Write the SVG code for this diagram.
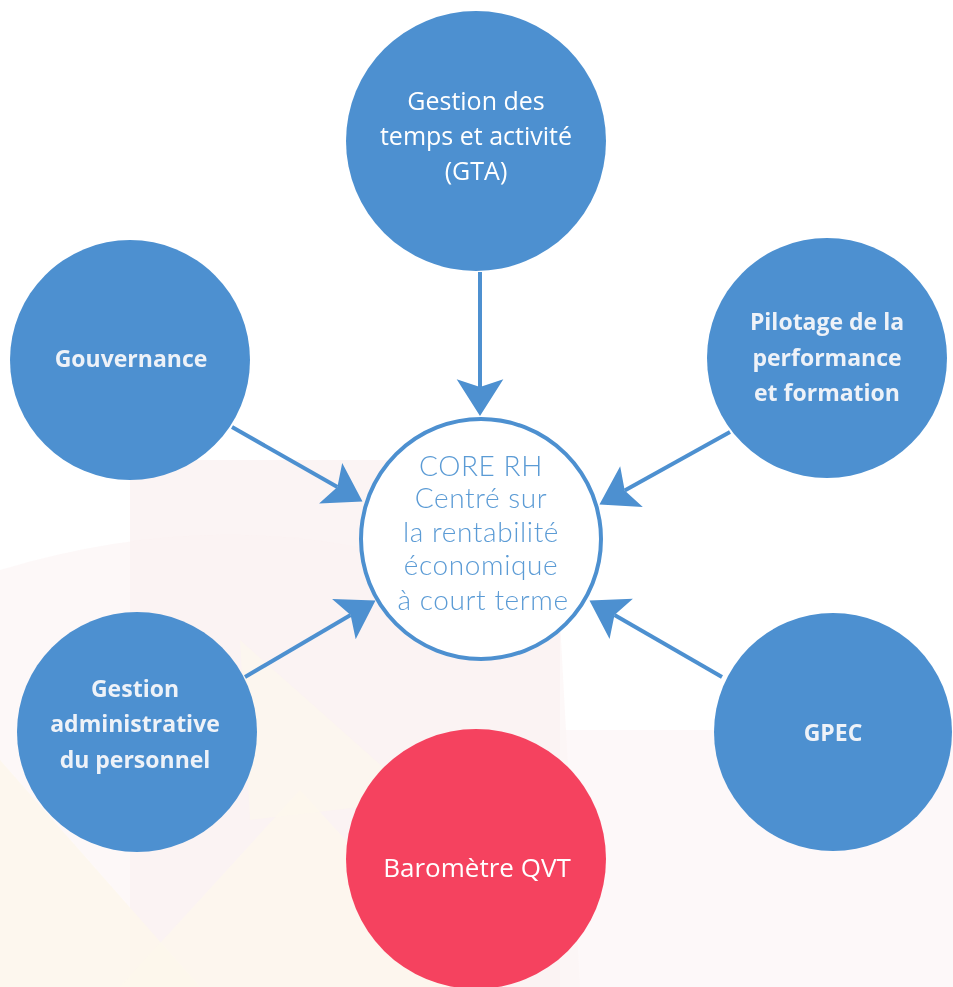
<svg xmlns="http://www.w3.org/2000/svg" width="953" height="987" viewBox="0 0 953 987">
<defs>
<style>
.node{fill:#4d90d0}
.red{fill:#f5425f}
.lbl{font-family:"Open Sans","Liberation Sans",sans-serif;font-weight:bold;font-size:23px;fill:#eef2f8;text-anchor:middle}
.cal{font-family:"Open Sans","Liberation Sans",sans-serif;font-size:25px;fill:#ffffff;text-anchor:middle}
.core{font-family:"Lato","Open Sans",sans-serif;font-weight:300;font-size:28px;letter-spacing:0.6px;fill:#5b9bd5;text-anchor:middle}
.conn{stroke:#4d90d0;stroke-width:4;fill:none}
</style>
<marker id="ah" markerUnits="userSpaceOnUse" markerWidth="40" markerHeight="50" viewBox="-8 -22 36 44" refX="0" refY="0" orient="auto">
<path d="M26,0 L-7,-21 L0,0 L-7,21 Z" fill="#4d90d0"/>
</marker>
</defs>
<rect width="953" height="987" fill="#ffffff"/>
<g id="background" opacity="0.45">
<rect x="130" y="460" width="430" height="527" fill="#f6e6e6"/>
<path d="M0,570 Q300,480 560,620 L580,987 L0,987 Z" fill="#f8e2e2" opacity="0.5"/>
<rect x="560" y="730" width="393" height="257" fill="#f8e6e8" opacity="0.6"/>
<path d="M0,760 L200,987 L0,987 Z" fill="#fbeed0" opacity="0.7"/>
<path d="M120,987 L300,790 L480,987 Z" fill="#fbf0d4" opacity="0.6"/>
<path d="M240,640 L420,800 L250,820 Z" fill="#fbefd4" opacity="0.5"/>
</g>
<g id="connectors">
<line class="conn" x1="480" y1="272" x2="480" y2="387" marker-end="url(#ah)"/>
<line class="conn" x1="232" y1="427" x2="337.4" y2="487.1" marker-end="url(#ah)"/>
<line class="conn" x1="730" y1="432" x2="624.7" y2="490.4" marker-end="url(#ah)"/>
<line class="conn" x1="245" y1="677" x2="350.6" y2="615.1" marker-end="url(#ah)"/>
<line class="conn" x1="722" y1="677" x2="614.5" y2="615" marker-end="url(#ah)"/>
</g>
<g id="gta">
<circle class="node" cx="476" cy="141" r="130"/>
<text class="cal" x="476" y="110">Gestion des</text>
<text class="cal" x="476" y="145">temps et activité</text>
<text class="cal" x="476" y="180">(GTA)</text>
</g>
<g id="gouvernance">
<circle class="node" cx="130" cy="360" r="120"/>
<text class="lbl" x="131" y="367">Gouvernance</text>
</g>
<g id="pilotage">
<circle class="node" cx="827" cy="358" r="120"/>
<text class="lbl" x="827" y="330">Pilotage de la</text>
<text class="lbl" x="827" y="366">performance</text>
<text class="lbl" x="827" y="401">et formation</text>
</g>
<g id="gestion-admin">
<circle class="node" cx="137" cy="732" r="120"/>
<text class="lbl" x="135" y="697">Gestion</text>
<text class="lbl" x="135" y="732">administrative</text>
<text class="lbl" x="135" y="768">du personnel</text>
</g>
<g id="gpec">
<circle class="node" cx="833" cy="732" r="119"/>
<text class="lbl" x="833" y="741">GPEC</text>
</g>
<g id="barometre">
<circle class="red" cx="476" cy="859" r="130"/>
<text class="cal" x="477" y="877" style="font-size:26px">Baromètre QVT</text>
</g>
<g id="core">
<circle cx="481" cy="539" r="120" fill="#ffffff" stroke="#4d90d0" stroke-width="4"/>
<text class="core" x="481" y="476">CORE RH</text>
<text class="core" x="481" y="508">Centré sur</text>
<text class="core" x="481" y="542">la rentabilité</text>
<text class="core" x="481" y="575">économique</text>
<text class="core" x="483" y="610">à court terme</text>
</g>
</svg>
